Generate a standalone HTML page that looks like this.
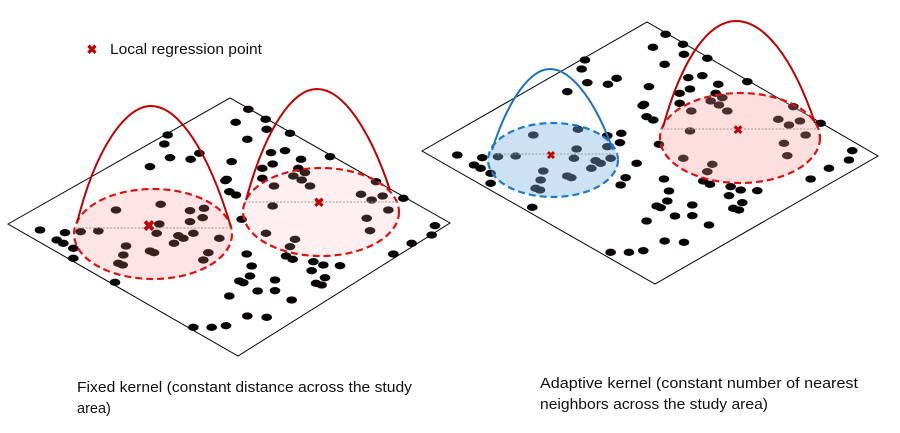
<!DOCTYPE html>
<html><head><meta charset="utf-8"><style>
html,body{margin:0;padding:0;background:#fff;width:900px;height:433px;overflow:hidden}
text{font-family:"Liberation Sans",sans-serif;font-size:14.5px;fill:#111}
</style></head><body>
<svg width="900" height="433" viewBox="0 0 900 433" xmlns="http://www.w3.org/2000/svg">
<defs>
<g id="dots" fill="#080404">
<ellipse cx="745" cy="88" rx="16" ry="11"/><ellipse cx="707" cy="127" rx="16" ry="11"/><ellipse cx="797" cy="118" rx="16" ry="11"/><ellipse cx="800" cy="148" rx="16" ry="11"/><ellipse cx="742" cy="178" rx="16" ry="11"/><ellipse cx="503" cy="165" rx="16" ry="11"/><ellipse cx="493" cy="192" rx="16" ry="11"/><ellipse cx="510" cy="233" rx="16" ry="11"/><ellipse cx="598" cy="220" rx="16" ry="11"/><ellipse cx="572" cy="238" rx="16" ry="11"/><ellipse cx="450" cy="260" rx="16" ry="11"/><ellipse cx="695" cy="245" rx="16" ry="11"/><ellipse cx="680" cy="298" rx="16" ry="11"/><ellipse cx="676" cy="302" rx="16" ry="11"/><ellipse cx="688" cy="335" rx="16" ry="11"/><ellipse cx="708" cy="345" rx="16" ry="11"/><ellipse cx="813" cy="218" rx="16" ry="11"/><ellipse cx="855" cy="212" rx="16" ry="11"/><ellipse cx="818" cy="252" rx="16" ry="11"/><ellipse cx="787" cy="265" rx="16" ry="11"/><ellipse cx="787" cy="295" rx="16" ry="11"/><ellipse cx="903" cy="238" rx="16" ry="11"/><ellipse cx="895" cy="265" rx="16" ry="11"/><ellipse cx="915" cy="278" rx="16" ry="11"/><ellipse cx="880" cy="288" rx="16" ry="11"/><ellipse cx="905" cy="300" rx="16" ry="11"/><ellipse cx="930" cy="318" rx="16" ry="11"/><ellipse cx="822" cy="318" rx="16" ry="11"/><ellipse cx="990" cy="230" rx="16" ry="11"/><ellipse cx="870" cy="160" rx="16" ry="11"/><ellipse cx="1083" cy="343" rx="16" ry="11"/><ellipse cx="1115" cy="360" rx="16" ry="11"/><ellipse cx="1148" cy="348" rx="16" ry="11"/><ellipse cx="1165" cy="390" rx="16" ry="11"/><ellipse cx="1128" cy="305" rx="16" ry="11"/><ellipse cx="1100" cy="415" rx="16" ry="11"/><ellipse cx="1110" cy="452" rx="16" ry="11"/><ellipse cx="1210" cy="355" rx="16" ry="11"/><ellipse cx="1305" cy="437" rx="16" ry="11"/><ellipse cx="1295" cy="465" rx="16" ry="11"/><ellipse cx="1235" cy="490" rx="16" ry="11"/><ellipse cx="1180" cy="522" rx="16" ry="11"/><ellipse cx="1020" cy="557" rx="16" ry="11"/><ellipse cx="818" cy="378" rx="16" ry="11"/><ellipse cx="798" cy="460" rx="16" ry="11"/><ellipse cx="885" cy="478" rx="16" ry="11"/><ellipse cx="870" cy="500" rx="16" ry="11"/><ellipse cx="858" cy="528" rx="16" ry="11"/><ellipse cx="878" cy="538" rx="16" ry="11"/><ellipse cx="940" cy="545" rx="16" ry="11"/><ellipse cx="970" cy="555" rx="16" ry="11"/><ellipse cx="935" cy="572" rx="16" ry="11"/><ellipse cx="975" cy="593" rx="16" ry="11"/><ellipse cx="948" cy="610" rx="16" ry="11"/><ellipse cx="965" cy="615" rx="16" ry="11"/><ellipse cx="740" cy="522" rx="16" ry="11"/><ellipse cx="755" cy="558" rx="16" ry="11"/><ellipse cx="750" cy="588" rx="16" ry="11"/><ellipse cx="718" cy="603" rx="16" ry="11"/><ellipse cx="730" cy="608" rx="16" ry="11"/><ellipse cx="825" cy="600" rx="16" ry="11"/><ellipse cx="773" cy="633" rx="16" ry="11"/><ellipse cx="825" cy="632" rx="16" ry="11"/><ellipse cx="688" cy="648" rx="16" ry="11"/><ellipse cx="875" cy="660" rx="16" ry="11"/><ellipse cx="742" cy="708" rx="16" ry="11"/><ellipse cx="800" cy="712" rx="16" ry="11"/><ellipse cx="580" cy="742" rx="16" ry="11"/><ellipse cx="635" cy="742" rx="16" ry="11"/><ellipse cx="678" cy="737" rx="16" ry="11"/><ellipse cx="725" cy="418" rx="16" ry="11"/><ellipse cx="120" cy="450" rx="16" ry="11"/><ellipse cx="195" cy="458" rx="16" ry="11"/><ellipse cx="170" cy="480" rx="16" ry="11"/><ellipse cx="190" cy="490" rx="16" ry="11"/><ellipse cx="220" cy="505" rx="16" ry="11"/><ellipse cx="220" cy="535" rx="16" ry="11"/><ellipse cx="242" cy="455" rx="16" ry="11"/><ellipse cx="295" cy="453" rx="16" ry="11"/><ellipse cx="348" cy="390" rx="16" ry="11"/><ellipse cx="482" cy="373" rx="16" ry="11"/><ellipse cx="478" cy="432" rx="16" ry="11"/><ellipse cx="470" cy="460" rx="16" ry="11"/><ellipse cx="570" cy="392" rx="16" ry="11"/><ellipse cx="612" cy="385" rx="16" ry="11"/><ellipse cx="608" cy="413" rx="16" ry="11"/><ellipse cx="570" cy="425" rx="16" ry="11"/><ellipse cx="580" cy="460" rx="16" ry="11"/><ellipse cx="535" cy="467" rx="16" ry="11"/><ellipse cx="550" cy="475" rx="16" ry="11"/><ellipse cx="522" cy="490" rx="16" ry="11"/><ellipse cx="658" cy="475" rx="16" ry="11"/><ellipse cx="625" cy="518" rx="16" ry="11"/><ellipse cx="610" cy="540" rx="16" ry="11"/><ellipse cx="378" cy="498" rx="16" ry="11"/><ellipse cx="370" cy="525" rx="16" ry="11"/><ellipse cx="355" cy="550" rx="16" ry="11"/><ellipse cx="368" cy="555" rx="16" ry="11"/><ellipse cx="450" cy="513" rx="16" ry="11"/><ellipse cx="462" cy="518" rx="16" ry="11"/><ellipse cx="345" cy="607" rx="16" ry="11"/>
</g>
</defs>

<!-- Left panel -->
<polygon points="8,224 230,98 450,223 238,356" fill="none" stroke="#000" stroke-width="1"/>
<g transform="translate(0,80) scale(0.33333)"><use href="#dots"/></g>
<ellipse cx="153" cy="234" rx="79" ry="45" fill="rgba(240,130,130,0.22)" stroke="#e01010" stroke-width="2.2" stroke-dasharray="7,4"/>
<ellipse cx="321" cy="212" rx="78" ry="44" fill="rgba(250,170,170,0.18)" stroke="#e01010" stroke-width="2.2" stroke-dasharray="7,4"/>
<line x1="75" y1="228" x2="232" y2="228" stroke="#999" stroke-dasharray="2,1.5" stroke-width="1"/>
<line x1="245" y1="202" x2="398" y2="202" stroke="#999" stroke-dasharray="2,1.5" stroke-width="1"/>
<path d="M77,223 C95,150 125,106 151,106 C178,106 208,150 231,227" fill="none" stroke="#c00000" stroke-width="2"/>
<path d="M246,200 C265,130 292,89 317,89 C343,89 370,130 390,190" fill="none" stroke="#c00000" stroke-width="2"/>
<text x="149" y="231" text-anchor="middle" style="font-size:15px;font-weight:bold;fill:#c00000">✖</text>
<text x="319" y="207" text-anchor="middle" style="font-size:13px;font-weight:bold;fill:#c00000">✖</text>

<!-- Right panel -->
<polygon points="422,151 647,22 878,156 655,284" fill="none" stroke="#000" stroke-width="1"/>
<g transform="translate(417.3,5) scale(0.33333)"><use href="#dots"/></g>
<ellipse cx="553" cy="160" rx="65" ry="37" fill="rgba(120,175,225,0.38)" stroke="#1a7ad0" stroke-width="2.2" stroke-dasharray="7,4"/>
<ellipse cx="740" cy="138" rx="80" ry="45" fill="rgba(250,150,150,0.3)" stroke="#e01010" stroke-width="2.2" stroke-dasharray="7,4"/>
<line x1="490" y1="154" x2="620" y2="154" stroke="#999" stroke-dasharray="2,1.5" stroke-width="1"/>
<line x1="660" y1="129" x2="818" y2="129" stroke="#999" stroke-dasharray="2,1.5" stroke-width="1"/>
<path d="M492,150 C508,100 530,69 550,69 C571,69 595,100 613,150" fill="none" stroke="#1a72c8" stroke-width="2"/>
<path d="M663,127 C683,55 710,21 736,21 C763,21 792,55 815,123" fill="none" stroke="#c00000" stroke-width="2"/>
<text x="551" y="159" text-anchor="middle" style="font-size:11px;font-weight:bold;fill:#c00000">✖</text>
<text x="738" y="134" text-anchor="middle" style="font-size:12px;font-weight:bold;fill:#c00000">✖</text>

<!-- Legend -->
<text x="92" y="54" text-anchor="middle" style="font-size:13px;font-weight:bold;fill:#c00000">✖</text>
<text x="110" y="54" textLength="152" lengthAdjust="spacingAndGlyphs">Local regression point</text>

<!-- Captions -->
<text x="77" y="392" textLength="335" lengthAdjust="spacingAndGlyphs">Fixed kernel (constant distance across the study</text>
<text x="77" y="413">area)</text>
<text x="540" y="388" textLength="318" lengthAdjust="spacingAndGlyphs">Adaptive kernel (constant number of nearest</text>
<text x="540" y="409" textLength="228" lengthAdjust="spacingAndGlyphs">neighbors across the study area)</text>
</svg>
</body></html>
